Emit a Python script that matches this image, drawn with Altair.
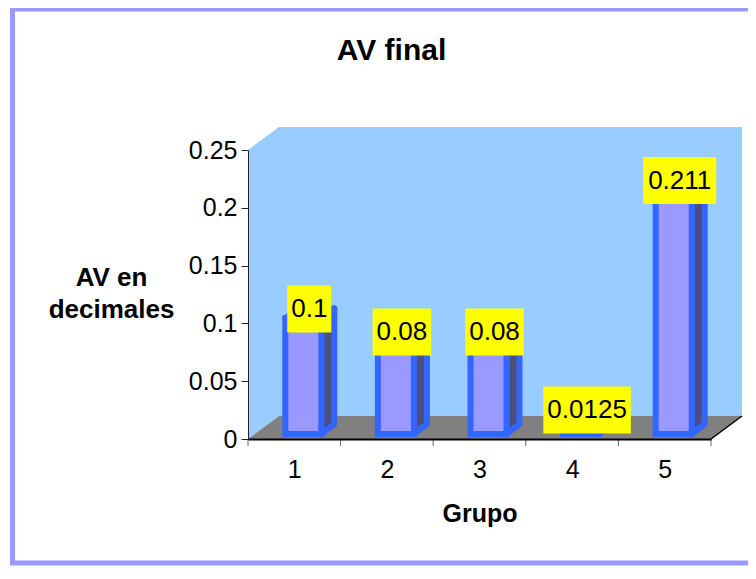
import altair as alt
import pandas as pd

# ---- data ----
grupos = [1, 2, 3, 4, 5]
valores = [0.1, 0.08, 0.08, 0.0125, 0.211]
etiquetas = ["0.1", "0.08", "0.08", "0.0125", "0.211"]
y_ticks = [0, 0.05, 0.1, 0.15, 0.2, 0.25]
x_bounds = [0.5, 1.5, 2.5, 3.5, 4.5, 5.5]

# ---- layout constants ----
W, H = 463, 289
XMIN, XMAX = 0.5, 5.5
YMAX = 0.25
PX = (XMAX - XMIN) / W      # data units per pixel (x)
PY = YMAX / H               # data units per pixel (y)
DXW, DYW = 31 * PX, 23 * PY  # wall depth
FONT = "Liberation Sans"
LABEL_FS = 26

sx = alt.Scale(domain=[XMIN, XMAX], nice=False, zero=False)
sy = alt.Scale(domain=[0, YMAX], nice=False)
ax_x = alt.Axis(values=grupos, format="d", ticks=False, tickSize=0, domain=True,
                domainColor="black", domainWidth=2, labelFontSize=25, labelPadding=18,
                labelColor="black", title="Grupo", titleFontSize=25, titleFontWeight="bold",
                titlePadding=19, titleColor="black", grid=False, zindex=2)
ax_y = alt.Axis(values=y_ticks, format="~g", tickSize=7, tickColor="#222222",
                domainColor="#222222", labelFontSize=25, labelPadding=4, labelColor="black",
                title=["AV en", "decimales"], titleAngle=0, titleX=-137, titleY=127,
                titleAlign="center", titleBaseline="middle", titleFontSize=26,
                titleFontWeight="bold", titleLineHeight=32, titleColor="black",
                grid=False, zindex=2)


def X(f):
    return alt.X(f, type="quantitative", scale=sx, axis=ax_x)


def Y(f):
    return alt.Y(f, type="quantitative", scale=sy, axis=ax_y)


# ---- walls and floor ----
side_wall = pd.DataFrame({"x": [XMIN, XMIN + DXW], "y": [YMAX, YMAX + DYW], "y2": [0, DYW]})
back_wall = pd.DataFrame({"x": [XMIN + DXW], "x2": [XMAX + DXW], "y": [DYW], "y2": [YMAX + DYW]})
floor = pd.DataFrame({"y": [0, DYW], "x": [XMIN, XMIN + DXW], "x2": [XMAX, XMAX + DXW]})
floor_edge = pd.DataFrame({"x": [XMAX, XMAX + DXW], "y": [0, DYW]})

l_side_wall = alt.Chart(side_wall).mark_area(color="#99CCFF").encode(
    x=X("x"), y=Y("y"), y2="y2")
l_back_wall = alt.Chart(back_wall).mark_rect(color="#99CCFF").encode(
    x=X("x"), x2="x2", y=Y("y"), y2="y2")
l_floor = alt.Chart(floor).mark_area(color="#808080", orient="horizontal").encode(
    y=Y("y"), x=X("x"), x2="x2")
l_floor_edge = alt.Chart(floor_edge).mark_line(color="black", strokeWidth=1.5).encode(
    x=X("x"), y=Y("y"))

# ---- bars (front, side, top faces) ----
front_rows, side_rows, top_rows, box_rows = [], [], [], []
for g, v, t in zip(grupos, valores, etiquetas):
    front_rows.append({"g": g, "x": g - 9 * PX, "x2": g + 27 * PX,
                       "y": 5 * PY, "y2": v + 5 * PY})
    side_rows.append({"g": g, "x": g + 27 * PX, "y": v + 5 * PY, "y2": 5 * PY})
    side_rows.append({"g": g, "x": g + 40 * PX, "y": v + 15 * PY, "y2": 15 * PY})
    top_rows.append({"g": g, "y": v + 5 * PY, "x": g - 9 * PX, "x2": g + 27 * PX})
    top_rows.append({"g": g, "y": v + 15 * PY, "x": g + 4 * PX, "x2": g + 40 * PX})
    tw = sum(0.278 if c == "." else 0.556 for c in t) * LABEL_FS + 8
    cx = g + 15 * PX
    cy = v + 14.5 * PY
    box_rows.append({"g": g, "label": t, "cx": cx, "cy": cy,
                     "x": cx - tw / 2 * PX, "x2": cx + tw / 2 * PX,
                     "y": cy - 23.5 * PY, "y2": cy + 23.5 * PY})

front = pd.DataFrame(front_rows)
side = pd.DataFrame(side_rows)
top = pd.DataFrame(top_rows)
boxes = pd.DataFrame(box_rows)

BLUE = "#3366FF"
l_side = alt.Chart(side).mark_area(fill="#4D4D80", stroke=BLUE, strokeWidth=6,
                                   strokeJoin="round").encode(
    x=X("x"), y=Y("y"), y2="y2", detail="g:N")
l_top = alt.Chart(top).mark_area(fill="#9999FF", stroke=BLUE, strokeWidth=6,
                                 strokeJoin="round", orient="horizontal").encode(
    y=Y("y"), x=X("x"), x2="x2", detail="g:N")
l_front = alt.Chart(front).mark_rect(fill="#9999FF", stroke=BLUE, strokeWidth=6).encode(
    x=X("x"), x2="x2", y=Y("y"), y2="y2")

l_box = alt.Chart(boxes).mark_rect(fill="#FFFF00").encode(
    x=X("x"), x2="x2", y=Y("y"), y2="y2")
l_text = alt.Chart(boxes).mark_text(fontSize=LABEL_FS, font=FONT, color="black",
                                    align="center", baseline="middle").encode(
    x=X("cx"), y=Y("cy"), text="label:N")

# ---- x axis ticks at group boundaries ----
ticks = pd.DataFrame({"x": x_bounds, "y": [0] * len(x_bounds)})
l_ticks = alt.Chart(ticks).mark_tick(orient="vertical", size=7, thickness=1,
                                     color="#222222", yOffset=3.5).encode(
    x=X("x"), y=Y("y"))

# ---- outer frame of the chart area ----
l_frame = alt.Chart(pd.DataFrame({"k": [0]})).mark_rect(
    fillOpacity=0, stroke="#9999FF", strokeWidth=5).encode(
    x=alt.value(-235.5), x2=alt.value(520), y=alt.value(-141), y2=alt.value(413))

chart = alt.layer(
    l_side_wall, l_back_wall, l_floor, l_floor_edge,
    l_side, l_top, l_front, l_box, l_text, l_ticks, l_frame
).properties(
    width=W, height=H,
    autosize=alt.AutoSizeParams(type="none"),
    padding={"left": 240, "top": 142, "right": 37, "bottom": 127},
    title=alt.TitleParams("AV final", fontSize=30, font=FONT, fontWeight="bold",
                          anchor="middle", frame="group", dx=-88, offset=-83.5,
                          baseline="alphabetic", color="black"),
    background="white",
).configure(font=FONT).configure_view(stroke=None)

chart.save("out.html", embed_options={"renderer": "svg", "actions": False})
